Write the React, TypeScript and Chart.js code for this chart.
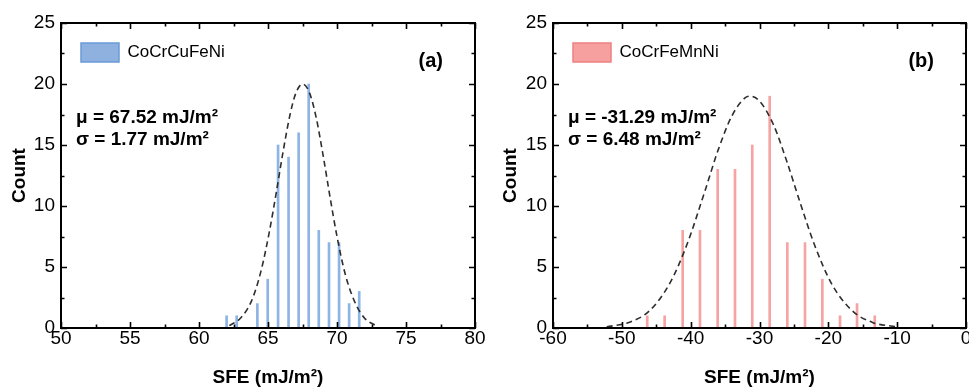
import React, { useEffect, useRef } from "react";
import { Chart, registerables } from "chart.js";

Chart.register(...registerables);

const FONT = "'Liberation Sans', Arial, Helvetica, sans-serif";

// ---------- Panel (a): CoCrCuFeNi ----------
const aName = "CoCrCuFeNi";
const aBinCenters = [62.0, 62.73, 64.23, 64.98, 65.73, 66.49, 67.22, 67.95, 68.68, 69.42, 70.15, 70.88, 71.61];
const aCounts = [1, 1, 2, 4, 15, 14, 16, 20, 8, 7, 7, 2, 3];
const aFitX = [62.2, 63.0, 63.8, 64.5, 65.1, 65.6, 66.1, 66.6, 67.0, 67.5, 68.0, 68.5, 69.0, 69.5, 70.0, 70.6, 71.3, 72.0, 72.8];
const aFitY = [0.2, 0.8, 2.2, 4.7, 7.9, 11.1, 14.5, 17.5, 19.2, 20.0, 19.3, 17.2, 14.1, 10.7, 7.5, 4.4, 2.1, 0.8, 0.2];
const aXTicks = [50, 55, 60, 65, 70, 75, 80];
const aStats = ["μ = 67.52 mJ/m²", "σ = 1.77 mJ/m²"];
const aTag = "(a)";

// ---------- Panel (b): CoCrFeMnNi ----------
const bName = "CoCrFeMnNi";
const bBinCenters = [-46.31, -43.78, -41.16, -38.65, -36.08, -33.56, -31.05, -28.52, -25.96, -23.39, -20.87, -18.3, -15.83, -13.26];
const bCounts = [1, 1, 8, 8, 13, 13, 15, 19, 7, 7, 4, 1, 2, 1];
const bFitX = [-52.2, -49, -46, -43, -40.5, -38, -36, -34, -32, -31.3, -30, -28, -26, -24, -22, -19.5, -16.5, -13.5, -10];
const bFitY = [0.1, 0.45, 1.4, 3.7, 6.9, 11.1, 14.6, 17.4, 18.9, 19.0, 18.6, 16.7, 13.6, 10.1, 6.8, 3.6, 1.4, 0.44, 0.1];
const bXTicks = [-60, -50, -40, -30, -20, -10, 0];
const bStats = ["μ = -31.29 mJ/m²", "σ = 6.48 mJ/m²"];
const bTag = "(b)";

const yTicks = [0, 5, 10, 15, 20, 25];
const xTitle = "SFE (mJ/m²)";
const yTitle = "Count";

const framePlugin = {
  id: "frameTicks",
  afterLayout(chart: any) {
    const lg = chart.legend;
    if (lg) {
      const h = lg.bottom - lg.top;
      lg.top = chart.chartArea.top;
      lg.bottom = lg.top + h;
    }
  },
  afterDraw(chart: any) {
    const { ctx, chartArea } = chart;
    const { left, right, top, bottom } = chartArea;
    const xs = chart.scales.x;
    const ys = chart.scales.y;
    const xt: number[] = chart.options.plugins.frameTicks.xTicks;
    const yt: number[] = chart.options.plugins.frameTicks.yTicks;
    ctx.save();
    ctx.strokeStyle = "#000";
    ctx.lineWidth = 1.6;
    const mids = (arr: number[]) => arr.slice(1).map((v, i) => (v + arr[i]) / 2);
    const drawX = (vals: number[], len: number) => {
      vals.forEach((v) => {
        const px = Math.round(xs.getPixelForValue(v)) + 0.5;
        ctx.beginPath();
        ctx.moveTo(px, bottom);
        ctx.lineTo(px, bottom - len);
        ctx.moveTo(px, top);
        ctx.lineTo(px, top + len);
        ctx.stroke();
      });
    };
    const drawY = (vals: number[], len: number) => {
      vals.forEach((v) => {
        const py = Math.round(ys.getPixelForValue(v)) + 0.5;
        ctx.beginPath();
        ctx.moveTo(left, py);
        ctx.lineTo(left + len, py);
        ctx.moveTo(right, py);
        ctx.lineTo(right - len, py);
        ctx.stroke();
      });
    };
    drawX(xt, 6);
    drawX(mids(xt), 3.5);
    drawY(yt, 6);
    drawY(mids(yt), 3.5);
    ctx.lineWidth = 2;
    ctx.strokeRect(left, top, right - left, bottom - top);
    ctx.restore();
  },
};

const textPlugin = {
  id: "panelText",
  afterDraw(chart: any) {
    const { ctx, chartArea } = chart;
    const o = chart.options.plugins.panelText;
    ctx.save();
    ctx.fillStyle = "#000";
    ctx.font = `bold 19px ${FONT}`;
    ctx.textBaseline = "middle";
    ctx.textAlign = "left";
    o.lines.forEach((t: string, i: number) => {
      ctx.fillText(t, chartArea.left + 15, chartArea.top + 95 + i * 22);
    });
    ctx.textAlign = "right";
    ctx.font = `bold 20px ${FONT}`;
    ctx.fillText(o.tag, chartArea.right - 32, chartArea.top + 38);
    ctx.restore();
  },
};

type PanelProps = {
  name: string;
  centers: number[];
  counts: number[];
  fitX: number[];
  fitY: number[];
  xTicks: number[];
  stats: string[];
  tag: string;
  barColor: string;
  legendFill: string;
  legendBorder: string;
  width: number;
  left: number;
  yWidth: number;
  padRight: number;
  yTitlePad: number;
};

function Panel(p: PanelProps) {
  const ref = useRef<HTMLCanvasElement | null>(null);
  useEffect(() => {
    if (!ref.current) return;
    const xmin = p.xTicks[0];
    const xmax = p.xTicks[p.xTicks.length - 1];
    const chart = new Chart(ref.current, {
      type: "bar",
      data: {
        datasets: [
          {
            type: "bar",
            label: p.name,
            data: p.centers.map((x, i) => ({ x, y: p.counts[i] })),
            backgroundColor: p.barColor,
            borderWidth: 0,
            barThickness: 2,
            order: 2,
          } as any,
          {
            type: "line",
            label: "fit",
            data: p.fitX.map((x, i) => ({ x, y: p.fitY[i] })),
            borderColor: "#2e2e2e",
            borderWidth: 1.6,
            borderDash: [6, 4],
            pointRadius: 0,
            fill: false,
            cubicInterpolationMode: "monotone",
            order: 1,
          } as any,
        ],
      },
      options: {
        responsive: false,
        animation: false,
        events: [],
        layout: { padding: { top: 23, right: p.padRight, left: 0, bottom: 0 } },
        scales: {
          x: {
            type: "linear",
            min: xmin,
            max: xmax,
            offset: false,
            afterFit: (s: any) => {
              s.height = 59;
            },
            afterBuildTicks: (s: any) => {
              s.ticks = p.xTicks.map((v) => ({ value: v }));
            },
            ticks: {
              color: "#000",
              padding: 1,
              maxRotation: 0,
              autoSkip: false,
              font: { family: FONT, size: 19, lineHeight: 1 },
            },
            grid: { display: false, drawTicks: false },
            border: { display: false },
            title: {
              display: true,
              text: xTitle,
              color: "#000",
              padding: 0,
              font: { family: FONT, size: 19, weight: "bold", lineHeight: 1 },
            },
          },
          y: {
            type: "linear",
            min: 0,
            max: 25,
            afterFit: (s: any) => {
              s.width = p.yWidth;
            },
            afterBuildTicks: (s: any) => {
              s.ticks = yTicks.map((v) => ({ value: v }));
            },
            ticks: {
              color: "#000",
              padding: 6,
              autoSkip: false,
              font: { family: FONT, size: 19, lineHeight: 1 },
            },
            grid: { display: false, drawTicks: false },
            border: { display: false },
            title: {
              display: true,
              text: yTitle,
              color: "#000",
              padding: { top: p.yTitlePad, bottom: 0 },
              font: { family: FONT, size: 19, weight: "bold", lineHeight: 1 },
            },
          },
        },
        plugins: {
          tooltip: { enabled: false },
          legend: {
            display: true,
            position: "chartArea",
            align: "start",
            labels: {
              boxWidth: 38,
              boxHeight: 19,
              padding: 20,
              color: "#000",
              font: { family: FONT, size: 17 },
              generateLabels: (chart: any) => {
                const items = (Chart.defaults.plugins.legend.labels as any).generateLabels(chart);
                return items
                  .filter((it: any) => it.datasetIndex === 0)
                  .map((it: any) => ({
                    ...it,
                    fillStyle: p.legendFill,
                    strokeStyle: p.legendBorder,
                    lineWidth: 1.5,
                    lineDash: [],
                  }));
              },
            },
          },
          frameTicks: { xTicks: p.xTicks, yTicks },
          panelText: { lines: p.stats, tag: p.tag },
        } as any,
      } as any,
      plugins: [framePlugin, textPlugin],
    });
    return () => chart.destroy();
  }, []);
  return (
    <canvas
      ref={ref}
      width={p.width}
      height={387}
      style={{ position: "absolute", left: p.left, top: 0, width: p.width, height: 387 }}
    />
  );
}

export default function App() {
  return (
    <div
      style={{
        position: "fixed",
        left: 0,
        top: 0,
        width: 969,
        height: 387,
        overflow: "hidden",
        background: "#fff",
      }}
    >
      <Panel
        name={aName}
        centers={aBinCenters}
        counts={aCounts}
        fitX={aFitX}
        fitY={aFitY}
        xTicks={aXTicks}
        stats={aStats}
        tag={aTag}
        barColor="#8DB4E4"
        legendFill="#8FB1E0"
        legendBorder="#6A9BD8"
        width={490}
        left={0}
        yWidth={61}
        padRight={15}
        yTitlePad={10}
      />
      <Panel
        name={bName}
        centers={bBinCenters}
        counts={bCounts}
        fitX={bFitX}
        fitY={bFitY}
        xTicks={bXTicks}
        stats={bStats}
        tag={bTag}
        barColor="#F7A3A3"
        legendFill="#F6A0A0"
        legendBorder="#EE8080"
        width={496}
        left={490}
        yWidth={63}
        padRight={20}
        yTitlePad={11.5}
      />
    </div>
  );
}
